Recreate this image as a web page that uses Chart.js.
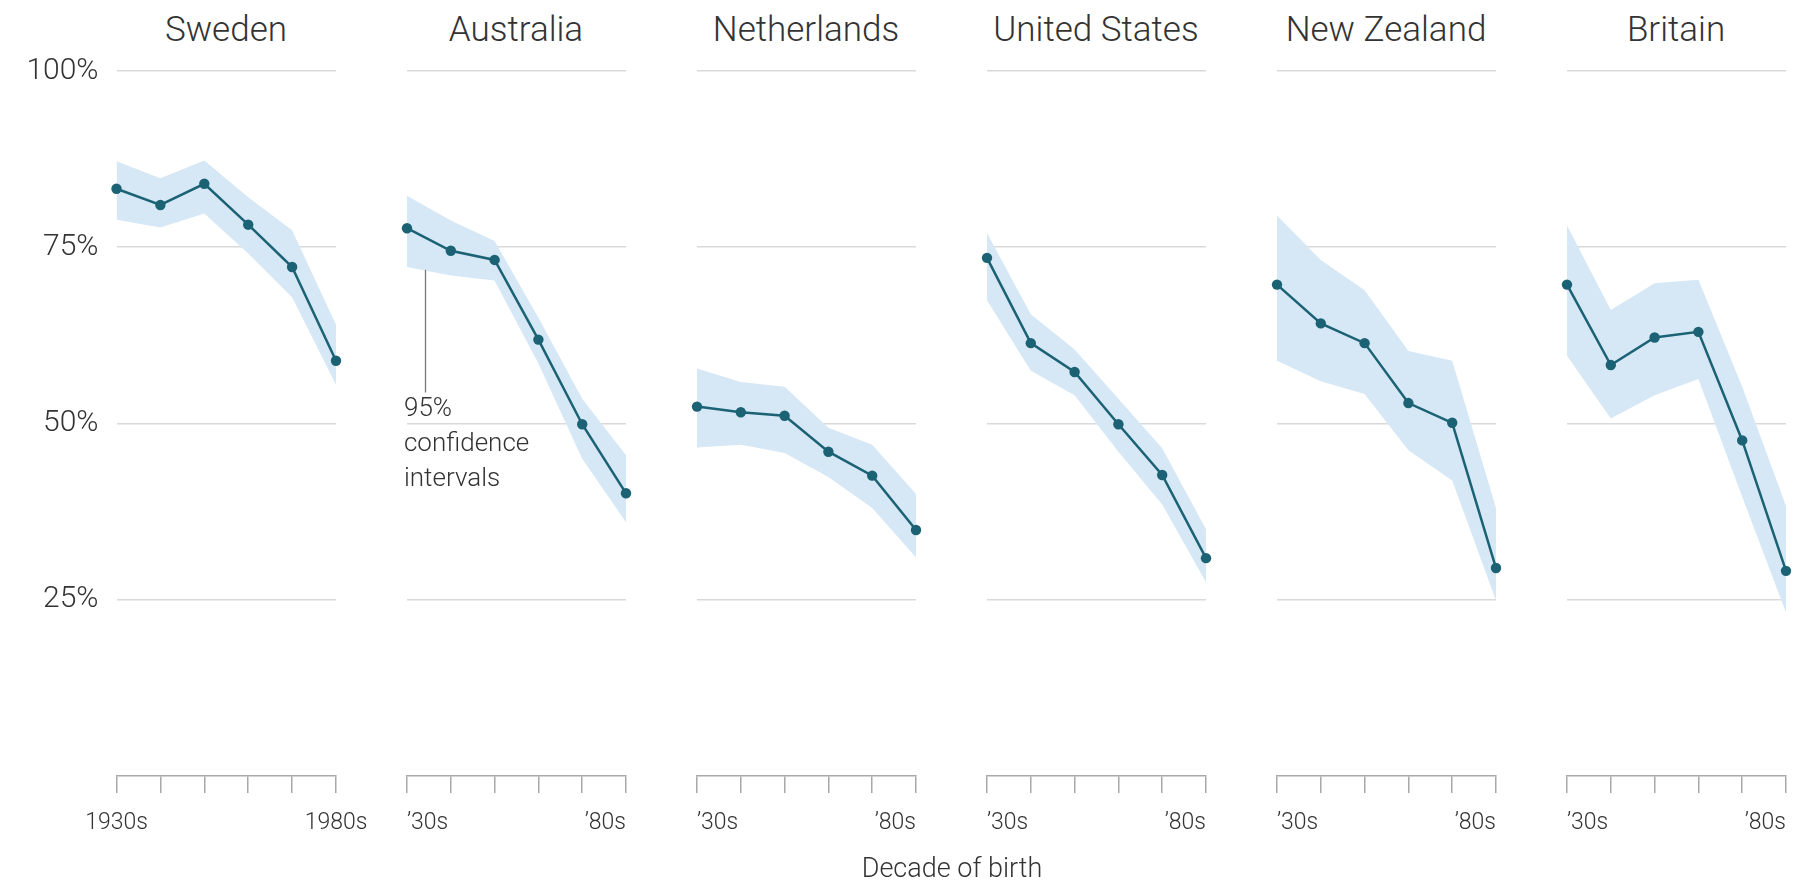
<!DOCTYPE html>
<html>
<head>
<meta charset="utf-8">
<script src="https://cdn.jsdelivr.net/npm/chart.js@4/dist/chart.umd.min.js"></script>
<style>
  html, body { margin:0; padding:0; background:#fff; }
  body { width:1809px; height:884px; position:relative; overflow:hidden;
         font-family: Roboto, "Liberation Sans", "DejaVu Sans", sans-serif; }
  canvas { position:absolute; }
  .title { position:absolute; top:9px; width:300px; text-align:center; font-size:35px;
           font-weight:300; color:#333; line-height:42px; white-space:nowrap; }
  .xtitle { position:absolute; top:852px; left:752px; width:400px; text-align:center;
            font-size:27px; font-weight:300; color:#333; line-height:32px; }
</style>
</head>
<body>
<div id="root"></div>
<div class="xtitle">Decade of birth</div>
<script>
// ---------- data ----------
const decades = ['1930s', '1940s', '1950s', '1960s', '1970s', '1980s'];
const countries = ['Sweden', 'Australia', 'Netherlands', 'United States', 'New Zealand', 'Britain'];
const yTicks = [25, 50, 75, 100];
const longTickLabels  = ['1930s', '', '', '', '', '1980s'];
const shortTickLabels = ['\u201930s', '', '', '', '', '\u201980s'];

const swedenVals = [83.3, 81.0, 84.0, 78.2, 72.2, 58.9];
const swedenHi   = [87.2, 84.8, 87.3, 82.1, 77.4, 64.0];
const swedenLo   = [78.9, 77.8, 79.8, 74.1, 67.9, 55.5];

const australiaVals = [77.7, 74.5, 73.2, 61.9, 49.9, 40.1];
const australiaHi   = [82.3, 78.8, 75.9, 65.0, 53.5, 45.5];
const australiaLo   = [72.2, 71.0, 70.3, 58.5, 45.0, 36.0];

const netherlandsVals = [52.4, 51.6, 51.1, 46.0, 42.6, 34.9];
const netherlandsHi   = [57.8, 55.9, 55.2, 49.4, 47.0, 40.0];
const netherlandsLo   = [46.6, 47.0, 45.8, 42.4, 38.0, 31.0];

const usVals = [73.5, 61.4, 57.3, 49.9, 42.7, 30.9];
const usHi   = [77.0, 65.5, 60.5, 53.5, 46.5, 35.0];
const usLo   = [67.5, 57.5, 54.0, 46.0, 38.5, 27.5];

const nzVals = [69.7, 64.2, 61.4, 52.9, 50.1, 29.5];
const nzHi   = [79.5, 73.2, 68.9, 60.3, 58.9, 38.0];
const nzLo   = [58.9, 56.0, 54.2, 46.2, 41.9, 24.9];

const britainVals = [69.7, 58.3, 62.2, 63.0, 47.6, 29.1];
const britainHi   = [78.1, 66.1, 69.9, 70.4, 55.2, 38.3];
const britainLo   = [59.6, 50.7, 54.0, 56.3, 39.6, 23.2];

const seriesVals = [swedenVals, australiaVals, netherlandsVals, usVals, nzVals, britainVals];
const seriesHi   = [swedenHi, australiaHi, netherlandsHi, usHi, nzHi, britainHi];
const seriesLo   = [swedenLo, australiaLo, netherlandsLo, usLo, nzLo, britainLo];

// annotation (Australia panel)
const annotLines = ['95%', 'confidence', 'intervals'];
const annotDecimalX = 0.41;
const annotTopValue = 71.8;
const annotBottomValue = 54.4;

// ---------- layout / style ----------
const FIRST_LEFT = 116.5, PANEL_W = 219, STEP = 290;
const TOP = 70.5, PLOT_H = 705, PAD = 40, PAD_T = 20, XAXIS_H = 80;
const TEAL = '#1a6274', BAND = '#d6e7f6', GRID = '#d9d9d9', AXIS = '#a8a8a8', TEXT = '#333';
const FONT = 'Roboto, "Liberation Sans", sans-serif';

const yLabelPlugin = {
  id: 'yLabels',
  afterDraw(chart) {
    const ys = chart.scales.y;
    const ctx = chart.ctx;
    ctx.save();
    ctx.fillStyle = TEXT;
    ctx.font = '300 30px ' + FONT;
    ctx.textAlign = 'right';
    ctx.textBaseline = 'middle';
    yTicks.forEach(v => ctx.fillText(v + '%', chart.chartArea.left - 18, ys.getPixelForValue(v)));
    ctx.restore();
  }
};

const annotationPlugin = {
  id: 'ciNote',
  afterDatasetsDraw(chart) {
    const x = chart.scales.x.getPixelForValue(annotDecimalX);
    const yTop = chart.scales.y.getPixelForValue(annotTopValue);
    const yBot = chart.scales.y.getPixelForValue(annotBottomValue);
    const ctx = chart.ctx;
    ctx.save();
    ctx.strokeStyle = '#777';
    ctx.lineWidth = 1.3;
    ctx.beginPath();
    ctx.moveTo(Math.round(x) + 0.5, yTop);
    ctx.lineTo(Math.round(x) + 0.5, yBot);
    ctx.stroke();
    ctx.fillStyle = TEXT;
    ctx.font = '300 26px ' + FONT;
    ctx.textAlign = 'left';
    ctx.textBaseline = 'middle';
    annotLines.forEach((t, k) => ctx.fillText(t, x - 21, yBot + 17 + k * 35));
    ctx.restore();
  }
};

const root = document.getElementById('root');

countries.forEach((name, i) => {
  const isFirst = i === 0;
  const areaLeft = FIRST_LEFT + i * STEP;
  const leftPad = isFirst ? FIRST_LEFT : PAD;
  const canvas = document.createElement('canvas');
  const w = Math.round(leftPad + PANEL_W + PAD);
  const h = PAD_T + PLOT_H + XAXIS_H;
  canvas.width = w; canvas.height = h;
  canvas.style.width = w + 'px'; canvas.style.height = h + 'px';
  canvas.style.left = (areaLeft - leftPad) + 'px';
  canvas.style.top = (TOP - PAD_T) + 'px';
  root.appendChild(canvas);

  const title = document.createElement('div');
  title.className = 'title';
  title.textContent = name;
  title.style.left = (areaLeft + PANEL_W / 2 - 150) + 'px';
  document.body.appendChild(title);

  const tickLabels = isFirst ? longTickLabels : shortTickLabels;
  const plugins = [];
  if (isFirst) plugins.push(yLabelPlugin);
  if (i === 1) plugins.push(annotationPlugin);

  new Chart(canvas, {
    type: 'line',
    data: {
      labels: decades,
      datasets: [
        { data: seriesVals[i], borderColor: TEAL, borderWidth: 2.5, pointRadius: 5.2,
          pointBackgroundColor: TEAL, pointBorderColor: TEAL, pointBorderWidth: 0,
          fill: false, tension: 0, clip: false, order: 0 },
        { data: seriesHi[i], borderWidth: 0, pointRadius: 0, backgroundColor: BAND,
          borderColor: 'rgba(0,0,0,0)', fill: '+1', tension: 0, clip: false, order: 1 },
        { data: seriesLo[i], borderWidth: 0, pointRadius: 0, borderColor: 'rgba(0,0,0,0)',
          fill: false, tension: 0, clip: false, order: 2 }
      ]
    },
    options: {
      responsive: false,
      animation: false,
      devicePixelRatio: 1,
      events: [],
      layout: { padding: { left: leftPad, right: PAD, top: PAD_T, bottom: 0 } },
      plugins: {
        legend: { display: false },
        tooltip: { enabled: false },
        title: { display: false },
        filler: { drawTime: 'beforeDatasetsDraw' }
      },
      scales: {
        x: {
          type: 'category',
          offset: false,
          afterFit: s => { s.height = XAXIS_H; s.paddingLeft = 0; s.paddingRight = 0; },
          border: { display: true, color: AXIS, width: 1.5 },
          grid: { display: true, drawOnChartArea: false, drawTicks: true,
                  tickLength: 17, tickColor: AXIS, color: AXIS, lineWidth: 1.5 },
          ticks: {
            autoSkip: false, maxRotation: 0, minRotation: 0,
            padding: 16, color: TEXT, align: isFirst ? 'center' : 'inner',
            font: { family: FONT, size: 23, weight: 300 },
            callback: (v, idx) => tickLabels[idx]
          }
        },
        y: {
          min: 0, max: 100,
          afterFit: s => { s.width = 0; s.paddingTop = 0; s.paddingBottom = 0; },
          afterBuildTicks: s => { s.ticks = yTicks.map(v => ({ value: v })); },
          border: { display: false },
          grid: { display: true, drawTicks: false, color: GRID, lineWidth: 1.6 },
          ticks: { display: false }
        }
      }
    },
    plugins: plugins
  });
});
</script>
</body>
</html>
